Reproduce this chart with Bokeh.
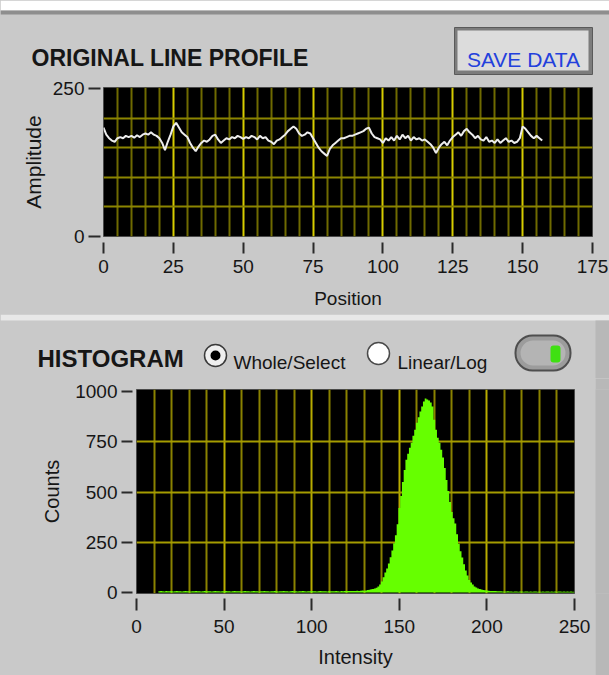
from bokeh.plotting import figure
from bokeh.models import FixedTicker, Label, BoxAnnotation, Range1d
from bokeh.layouts import row
from bokeh.embed import file_html
from bokeh.resources import INLINE

# ---------------- data ----------------
positions = list(range(158))
amplitude = [
    184, 172, 166, 162, 160, 166, 168, 166, 170, 168,
    170, 167, 171, 168, 172, 174, 172, 176, 172, 170,
    166, 158, 146, 160, 172, 186, 192, 184, 176, 172,
    168, 158, 150, 144, 152, 158, 162, 160, 164, 170,
    172, 164, 158, 162, 166, 164, 168, 166, 170, 168,
    165, 168, 166, 170, 168, 164, 170, 166, 168, 162,
    160, 156, 162, 164, 168, 172, 178, 182, 186, 182,
    174, 170, 172, 176, 174, 166, 158, 150, 144, 140,
    136, 148, 154, 158, 162, 166, 166, 168, 170, 170,
    172, 174, 176, 178, 182, 184, 174, 168, 166, 164,
    158, 166, 162, 168, 162, 170, 164, 172, 166, 170,
    162, 168, 164, 166, 162, 164, 160, 156, 150, 141,
    150, 156, 160, 154, 162, 168, 172, 176, 170, 178,
    182, 176, 172, 166, 170, 164, 162, 168, 160, 162,
    158, 164, 158, 162, 166, 160, 162, 158, 160, 166,
    186, 182, 176, 170, 166, 170, 166, 162,
]

counts = [
    0, 0, 0, 0, 0, 0, 0, 0, 0, 0,
    0, 0, 0, 6, 7, 6, 5, 7, 6, 6,
    7, 5, 6, 7, 6, 6, 5, 6, 7, 6,
    6, 5, 6, 6, 7, 6, 6, 5, 6, 7,
    6, 6, 6, 5, 6, 7, 6, 6, 5, 6,
    6, 7, 6, 6, 5, 6, 7, 6, 6, 6,
    5, 6, 7, 6, 6, 5, 6, 7, 6, 6,
    5, 6, 6, 7, 6, 6, 5, 6, 6, 7,
    6, 5, 6, 6, 7, 6, 6, 5, 6, 7,
    6, 6, 5, 6, 6, 7, 6, 5, 6, 6,
    7, 6, 6, 5, 6, 7, 6, 6, 6, 5,
    7, 6, 6, 6, 7, 6, 5, 7, 6, 7,
    8, 7, 8, 8, 7, 8, 9, 8, 9, 10,
    9, 10, 12, 14, 16, 18, 20, 24, 30, 40,
    55, 76, 100, 120, 144, 175, 209, 245, 285, 340,
    420, 480, 550, 610, 660, 690, 720, 745, 780, 810,
    845, 872, 900, 925, 950, 965, 960, 955, 945, 925,
    860, 810, 770, 745, 710, 672, 620, 560, 505, 450,
    400, 370, 343, 290, 243, 205, 174, 140, 109, 85,
    62, 50, 40, 30, 25, 20, 18, 15, 13, 11,
    10, 9, 8, 8, 7, 7, 6, 6, 6, 5,
    5, 5, 6, 5, 5, 4, 5, 5, 4, 5,
    5, 4, 5, 5, 4, 5, 4, 5, 5, 4,
    5, 4, 5, 4, 5, 5, 4, 5, 4, 5,
    4, 5, 5, 4, 5, 4, 5, 4, 5, 4,
    4,
]
intensity = list(range(len(counts)))

top_x_ticks = [0, 25, 50, 75, 100, 125, 150, 175]
top_y_ticks = [0, 250]
hist_x_ticks = [0, 50, 100, 150, 200, 250]
hist_y_ticks = [0, 250, 500, 750, 1000]

# ---------------- style ----------------
PANEL = "#c9c9c9"
STRIP = "#b8b8b8"
FONT = "Liberation Sans"
TXT = "#161616"
W = 609


def style_axis(ax, tin, tout, standoff, label, label_standoff, label_size):
    ax.axis_line_color = None
    ax.major_tick_line_color = "#2a2a2a"
    ax.major_tick_line_width = 2
    ax.major_tick_in = tin
    ax.major_tick_out = tout
    ax.minor_tick_line_color = None
    ax.major_label_text_font = FONT
    ax.major_label_text_font_size = "19px"
    ax.major_label_text_color = TXT
    ax.major_label_standoff = standoff
    ax.axis_label = label
    ax.axis_label_standoff = label_standoff
    ax.axis_label_text_font = FONT
    ax.axis_label_text_font_size = label_size
    ax.axis_label_text_font_style = "normal"
    ax.axis_label_text_color = TXT


def header(w, h, fill=PANEL):
    return figure(width=w, height=h, x_range=Range1d(0, w), y_range=Range1d(0, h),
                  x_axis_type=None, y_axis_type=None, output_backend="svg",
                  toolbar_location=None, min_border=0, outline_line_color=None,
                  background_fill_color=fill, border_fill_color=fill)


def box(p, l, r, b, t, fill, line=None, lw=1, radius=0):
    p.add_layout(BoxAnnotation(left=l, right=r, bottom=b, top=t,
                               left_units="screen", right_units="screen",
                               bottom_units="screen", top_units="screen",
                               fill_color=fill, fill_alpha=1.0,
                               line_color=line, line_width=lw, line_alpha=1.0,
                               border_radius=radius, level="overlay"))


def label(p, x, y, text, size, color=TXT, bold=False, align="left"):
    p.add_layout(Label(x=x, y=y, x_units="screen", y_units="screen", text=text,
                       text_font=FONT, text_font_size=size,
                       text_font_style="bold" if bold else "normal",
                       text_color=color, text_align=align,
                       text_baseline="alphabetic", level="overlay"))


# ---------------- top header (page y 0..75) ----------------
top_head = header(W, 75)
box(top_head, 0, W, 65, 75, "#ffffff")
box(top_head, 0, W, 61, 65, "#8e8e8e")
box(top_head, 454, 592, 1, 48, "#7c7c7c", "#5a5a5a", 1)
box(top_head, 457, 588, 5, 45, "#dcdcdc", None)
label(top_head, 523, 16, "SAVE DATA", "21px", color="#2340dc", align="center")
label(top_head, 31, 18, "ORIGINAL LINE PROFILE", "23px", bold=True)

# ---------------- top plot: line profile (page y 75..314) ----------------
top = figure(width=W, height=239, x_range=Range1d(0, 175), y_range=Range1d(0, 251.7),
             output_backend="svg", toolbar_location=None,
             min_border_left=103, min_border_right=17, min_border_top=12, min_border_bottom=78,
             background_fill_color="black", border_fill_color=PANEL,
             outline_line_color="#4a4a4a", outline_line_width=1)

top.xaxis.ticker = FixedTicker(ticks=top_x_ticks)
top.yaxis.ticker = FixedTicker(ticks=top_y_ticks)
style_axis(top.xaxis[0], -6, 17, 6, "Position", 12, "19px")
style_axis(top.yaxis[0], -3, 15, 4, "Amplitude", 5, "21px")

top.xgrid.ticker = FixedTicker(ticks=[25, 50, 75, 100, 125, 150],
                               minor_ticks=[t for t in range(5, 175, 5) if t % 25])
top.xgrid.grid_line_color = "#d6cc00"
top.xgrid.grid_line_width = 2
top.xgrid.minor_grid_line_color = "#6f6a00"
top.xgrid.minor_grid_line_width = 2
top.ygrid.ticker = FixedTicker(ticks=[50, 100, 150, 200])
top.ygrid.grid_line_color = "#8c8500"
top.ygrid.grid_line_width = 2

top.line(positions, amplitude, line_color="#ededed", line_width=2)

# ---------------- histogram header (page y 314..378) ----------------
hist_head = header(W, 64)
box(hist_head, 0, W, 58, 64, "#e8e8e8")
box(hist_head, 595, W, 0, 58, STRIP)
label(hist_head, 37, 20, "HISTOGRAM", "24px", bold=True)
box(hist_head, 204, 226, 12, 34, "#efefef", "#3a3a3a", 1.5, 11)
box(hist_head, 210, 220, 18, 28, "#000000", None, 1, 5)
label(hist_head, 233, 16, "Whole/Select", "19px")
box(hist_head, 367, 389, 14, 36, "#ffffff", "#4a4a4a", 1.5, 11)
label(hist_head, 397, 16, "Linear/Log", "19px")
box(hist_head, 515, 570, 8, 43, "#9c9c9c", "#4e4e4e", 2, 17)
box(hist_head, 520, 565, 13, 38, "#b4b4b4", None, 1, 13)
box(hist_head, 550, 560, 16, 33, "#3fe012", None, 1, 3)

# ---------------- histogram plot (page y 378..675) ----------------
hist = figure(width=595, height=297, x_range=Range1d(0, 250), y_range=Range1d(-5, 1010),
              output_backend="svg", toolbar_location=None,
              min_border_left=136, min_border_right=21, min_border_top=11, min_border_bottom=82,
              background_fill_color="black", border_fill_color=PANEL,
              outline_line_color="#4a4a4a", outline_line_width=1)

hist.xaxis.ticker = FixedTicker(ticks=hist_x_ticks)
hist.yaxis.ticker = FixedTicker(ticks=hist_y_ticks)
style_axis(hist.xaxis[0], -5, 17, 9, "Intensity", 10, "20px")
style_axis(hist.yaxis[0], -4, 15, 4, "Counts", 9, "20px")

hist.xgrid.ticker = FixedTicker(ticks=[50, 100, 150, 200],
                                minor_ticks=[t for t in range(10, 250, 10) if t % 50])
hist.xgrid.grid_line_color = "#b8ac00"
hist.xgrid.grid_line_width = 2
hist.xgrid.minor_grid_line_color = "#8a8200"
hist.xgrid.minor_grid_line_width = 2
hist.ygrid.ticker = FixedTicker(ticks=[250, 500, 750])
hist.ygrid.grid_line_color = "#a59c00"
hist.ygrid.grid_line_width = 2

hist.varea_step(x=intensity, y1=[0] * len(counts), y2=counts, step_mode="center",
                fill_color="#66ff00")

strip = header(14, 297, fill=STRIP)

html = file_html([top_head, top, hist_head, row(hist, strip, spacing=0)], INLINE)
html = html.replace("</head>",
                    "<style>html, body { background-color: #c9c9c9 !important; }</style></head>", 1)
open("out.html", "w").write(html)
